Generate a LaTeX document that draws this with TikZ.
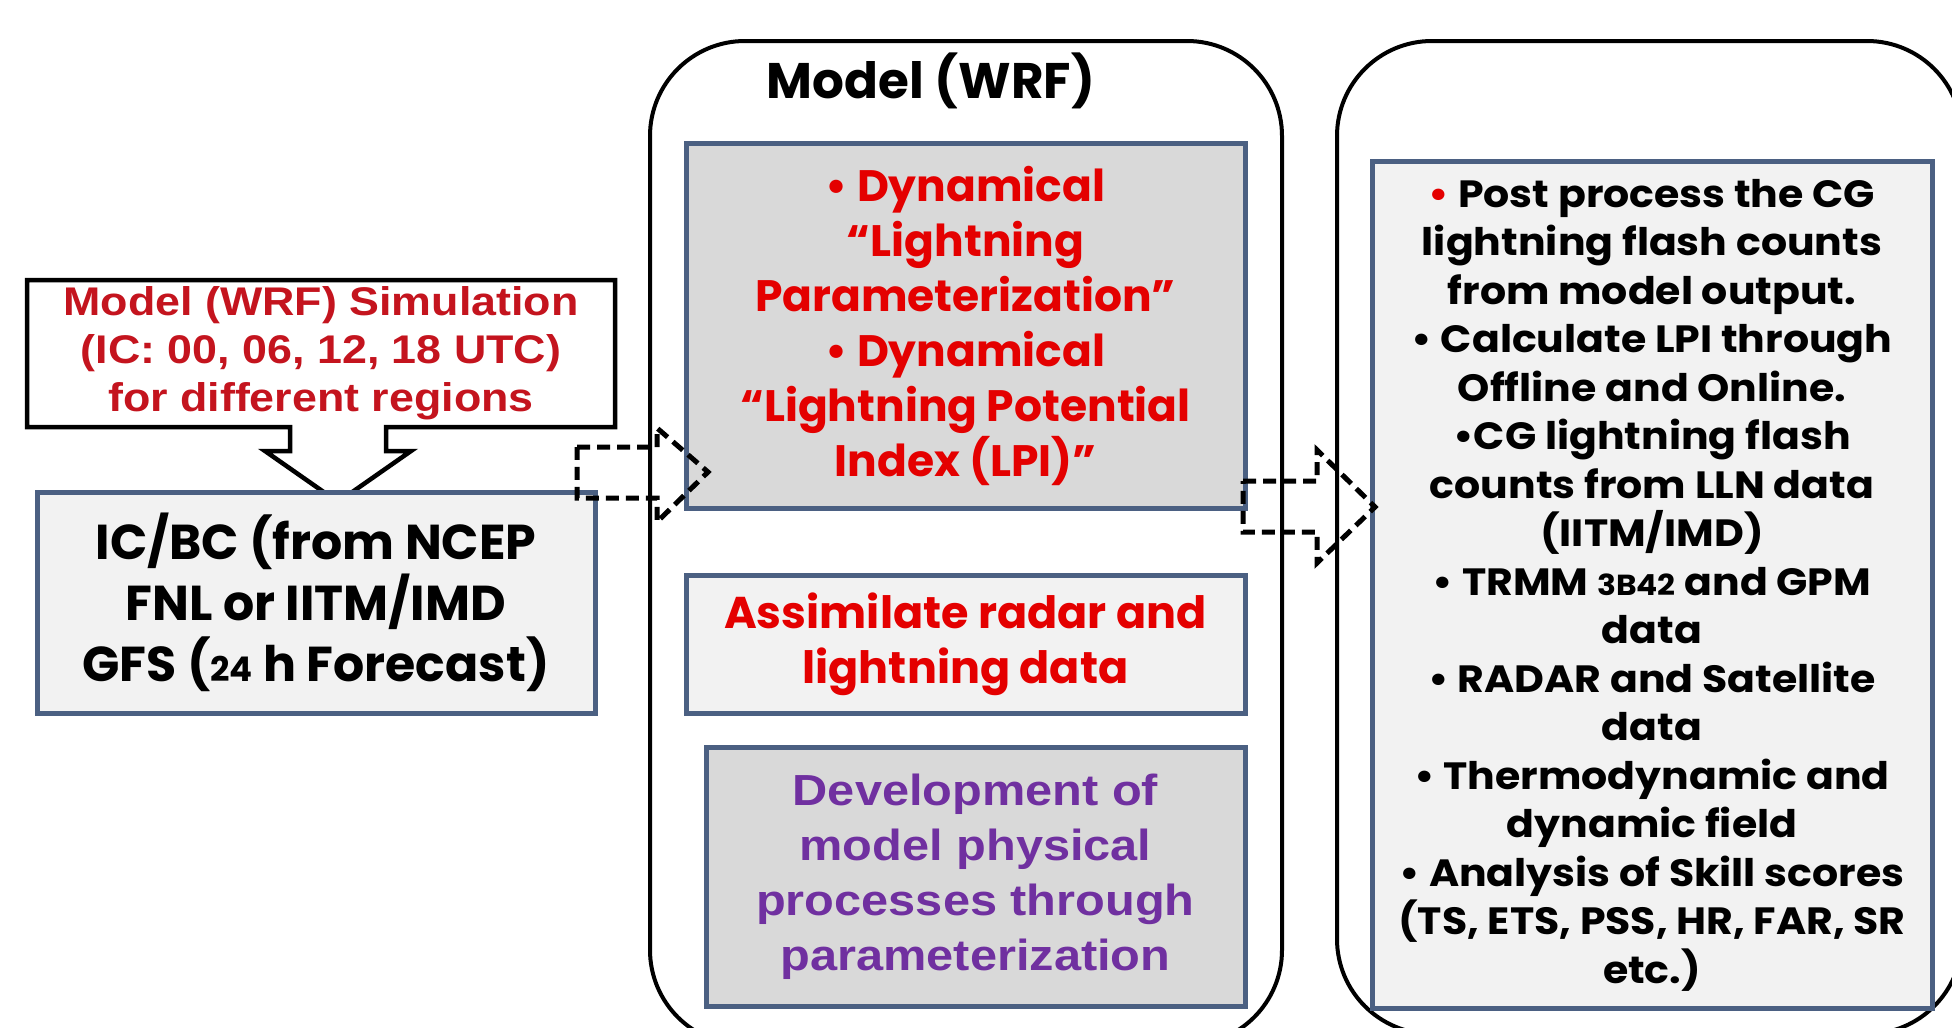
\documentclass[tikz,border=0pt]{standalone}
\usepackage{fontspec}
\setmainfont{Liberation Sans}[FakeStretch=1.12]
\newfontfamily\pop{Poppins}
\newfontfamily\popw{Poppins}[FakeStretch=1.08]
\definecolor{redA}{RGB}{196,20,30}
\definecolor{redB}{RGB}{228,0,0}
\definecolor{purp}{RGB}{112,48,160}
\definecolor{boxblue}{RGB}{75,96,130}
\definecolor{boxgray}{RGB}{217,217,217}
\definecolor{boxlight}{RGB}{242,242,242}
\begin{document}
\begin{tikzpicture}[x=1pt,y=-1pt,
  outerbox/.style={draw=black, line width=4pt, rounded corners=95pt, fill=white},
  inbox/.style={draw=boxblue, line width=5pt, inner sep=0pt, align=center},
  graybox/.style={inbox, fill=boxgray},
  lightbox/.style={inbox, fill=boxlight},
  dasharrow/.style={draw=black, line width=5pt, dash pattern=on 13pt off 7pt}]
\useasboundingbox[fill=white] (0,0) rectangle (1952,1028);

% outer containers
\node[outerbox, minimum width=632, minimum height=1004] (model) at (966,543) {};
\node[outerbox, minimum width=625, minimum height=993] (post) at (1649.5,537.5) {};
\node[font=\pop\bfseries\fontsize{50}{54}\selectfont] (title) at (931,81) {Model (WRF)};

% callout
\draw[line width=4.5pt, fill=white, line join=miter]
  (27,280) -- (615,280) -- (615,427) -- (386,427) -- (386,451) -- (411,451)
  -- (338,502) -- (265,451) -- (290,451) -- (290,427) -- (27,427) -- cycle;
\node[align=center, text=redA, font=\bfseries\fontsize{40}{48}\selectfont] (sim) at (321,353)
  {Model (WRF) Simulation\\(IC: 00, 06, 12, 18 UTC)\\for different regions};

% IC/BC
\node[lightbox, minimum width=558, minimum height=221,
  font=\pop\bfseries\fontsize{49}{61}\selectfont] (icbc) at (316,602.5)
  {IC/BC (from NCEP\\FNL or IITM/IMD\\GFS ({\fontsize{34}{40}\selectfont 24} h Forecast)};

% model inner boxes
\node[graybox, minimum width=559, minimum height=365, text=redB,
  font=\pop\bfseries\fontsize{44}{55}\selectfont] (dyn) at (965.5,325.5)
  {\textbullet\ Dynamical\\“Lightning\\Parameterization”\\\textbullet\ Dynamical\\“Lightning Potential\\Index (LPI)”};
\node[lightbox, minimum width=559, minimum height=138, text=redB,
  font=\pop\bfseries\fontsize{44.5}{55}\selectfont] (assim) at (965.5,644)
  {Assimilate radar and\\lightning data};
\node[graybox, minimum width=539, minimum height=259, text=purp,
  font=\bfseries\fontsize{43.5}{55}\selectfont] (dev) at (975.5,876.5)
  {Development of\\model physical\\processes through\\parameterization};

% right inner box
\node[lightbox, minimum width=560, minimum height=847,
  font=\popw\bfseries\fontsize{38}{48.5}\selectfont] (list) at (1652,585)
  {{\color{redB}\textbullet} Post process the CG\\lightning flash counts\\from model output.\\
   \textbullet\ Calculate LPI through\\Offline and Online.\\\textbullet CG lightning flash\\
   counts from LLN data\\(IITM/IMD)\\\textbullet\ TRMM {\fontsize{29}{30}\selectfont 3B42} and GPM\\data\\
   \textbullet\ RADAR and Satellite\\data\\\textbullet\ Thermodynamic and\\dynamic field\\
   \textbullet\ Analysis of Skill scores\\(TS, ETS, PSS, HR, FAR, SR\\etc.)};

% dashed block arrows
\draw[dasharrow] (577,447) -- (657,447) -- (657,428) -- (708,472) -- (657,522)
  -- (657,498) -- (577,498) -- cycle;
\draw[dasharrow] (1243,481) -- (1317,481) -- (1317,450) -- (1375,507) -- (1317,563)
  -- (1317,532) -- (1243,532) -- cycle;
\end{tikzpicture}
\end{document}
